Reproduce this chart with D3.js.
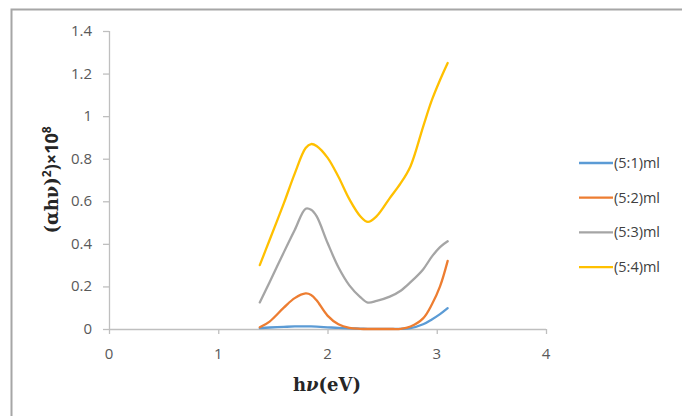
<!DOCTYPE html>
<html lang="en">
  <head>
    <meta charset="utf-8">
    <title>Tauc plot</title>
    <script src="https://d3js.org/d3.v7.min.js"></script>
    <style>
      body{ margin: 0; background: #fff; }
    </style>
  </head>
  <body>
    <div id="chart"></div>
    <script>

      var w = 682, h = 416;
      var margin = {top: 31, left: 109};
      var innerWidth = 437, innerHeight = 298;

      var seriesNames = ["(5:1)ml", "(5:2)ml", "(5:3)ml", "(5:4)ml"];
      var colors = ["#5b9bd5", "#ed7d31", "#a5a5a5", "#ffc000"];
      var xTicks = [0, 1, 2, 3, 4];
      var yTicks = [0, 0.2, 0.4, 0.6, 0.8, 1, 1.2, 1.4];

      // photon energy (eV)
      var hv = [1.38, 1.47, 1.6, 1.7, 1.8, 1.85, 1.9, 2.0, 2.1, 2.2, 2.3, 2.37, 2.45, 2.57, 2.67, 2.76, 2.875, 2.955, 3.03, 3.1];

      var s1 = [0.004, 0.007, 0.010, 0.012, 0.012, 0.012, 0.011, 0.008, 0.005, 0.003, 0.002, 0.001, 0.001, 0.001, 0.001, 0.004, 0.022, 0.045, 0.070, 0.098];
      var s2 = [0.008, 0.035, 0.100, 0.145, 0.167, 0.160, 0.135, 0.063, 0.022, 0.005, 0.001, 0.000, 0.000, 0.000, 0.001, 0.012, 0.050, 0.115, 0.200, 0.320];
      var s3 = [0.125, 0.220, 0.360, 0.465, 0.565, 0.560, 0.530, 0.405, 0.290, 0.205, 0.150, 0.124, 0.132, 0.152, 0.180, 0.220, 0.280, 0.340, 0.385, 0.412];
      var s4 = [0.300, 0.418, 0.590, 0.730, 0.850, 0.869, 0.860, 0.805, 0.715, 0.610, 0.530, 0.503, 0.530, 0.615, 0.685, 0.765, 0.950, 1.075, 1.170, 1.250];

      var series = [s1, s2, s3, s4];

      var svg = d3.select("#chart").append("svg")
                  .attr("width", w).attr("height", h);

      svg.append("rect").attr("x", 11.5).attr("y", 9.5)
         .attr("width", 700).attr("height", 420)
         .attr("fill", "#fff").attr("stroke", "#a6a6a6").attr("stroke-width", 2);

      var xScale = d3.scaleLinear().domain([0, 4]).range([margin.left, margin.left + innerWidth]);
      var yScale = d3.scaleLinear().domain([0, 1.4]).range([margin.top + innerHeight, margin.top]);

      // axis lines and ticks, labels are placed separately below
      var xAxis = d3.axisBottom(xScale).tickValues(xTicks).tickSize(5).tickFormat("");
      var yAxis = d3.axisLeft(yScale).tickValues(yTicks).tickSize(6).tickFormat("");

      svg.append("g").attr("class", "xAxis")
         .attr("transform", `translate(0,${margin.top + innerHeight})`).call(xAxis);
      svg.append("g").attr("class", "yAxis")
         .attr("transform", `translate(${margin.left},0)`).call(yAxis);

      svg.selectAll(".domain, .tick line").attr("stroke", "#bfbfbf").attr("stroke-width", 1.3);
      svg.select(".xAxis .domain").attr("d", `M${margin.left},0.5H${margin.left + innerWidth}`);
      svg.select(".yAxis .domain").attr("d", `M0.5,${margin.top}V${margin.top + innerHeight}`);

      var tickLabels = svg.append("g")
                          .attr("font-family", "'Open Sans', sans-serif")
                          .attr("font-size", 15).attr("fill", "#595959");

      tickLabels.selectAll(".xlab").data(xTicks).enter().append("text")
                .attr("class", "xlab")
                .attr("x", d => xScale(d))
                .attr("y", margin.top + innerHeight + 30)
                .attr("text-anchor", "middle")
                .text(d3.format("d"));

      tickLabels.selectAll(".ylab").data(yTicks).enter().append("text")
                .attr("class", "ylab")
                .attr("x", margin.left - 17)
                .attr("y", d => yScale(d) + 5)
                .attr("text-anchor", "end")
                .text(d => String(+d.toFixed(1)));

      var line = d3.line()
                   .x((d, i) => xScale(hv[i]))
                   .y(d => yScale(d))
                   .curve(d3.curveCatmullRom.alpha(0.5));

      svg.selectAll(".series").data(series).enter().append("path")
         .attr("class", "series")
         .attr("d", line)
         .attr("fill", "none")
         .attr("stroke", (d, i) => colors[i])
         .attr("stroke-width", 2.3)
         .attr("stroke-linecap", "round")
         .attr("stroke-linejoin", "round");

      // axis titles
      var xt = svg.append("text")
         .attr("x", 327).attr("y", 391)
         .attr("text-anchor", "middle")
         .attr("font-family", "'DejaVu Serif', serif")
         .attr("font-weight", "bold").attr("font-size", 18)
         .attr("fill", "#262626");
      xt.append("tspan").text("h");
      xt.append("tspan").attr("font-style", "italic").text("ν");
      xt.append("tspan").text("(eV)");

      var yt = svg.append("text")
         .attr("transform", "translate(58,180) rotate(-90)")
         .attr("text-anchor", "middle")
         .attr("font-weight", "bold").attr("font-size", 18)
         .attr("fill", "#262626");
      yt.append("tspan").attr("font-family", "'DejaVu Serif', serif").text("(αhν)");
      yt.append("tspan").attr("font-family", "'Open Sans', sans-serif").attr("font-size", 12).attr("dy", -7).text("2");
      yt.append("tspan").attr("font-family", "'Open Sans', sans-serif").attr("dy", 7).text(")×10");
      yt.append("tspan").attr("font-family", "'Open Sans', sans-serif").attr("font-size", 12).attr("dy", -7).text("8");

      // legend
      var legend = svg.append("g").attr("class", "legend")
                      .attr("font-family", "'Open Sans', sans-serif").attr("font-size", 14.5);
      var rows = legend.selectAll("g").data(seriesNames).enter().append("g")
                       .attr("transform", (d, i) => `translate(579,${163 + 34.7 * i})`);
      rows.append("line").attr("x1", 0).attr("x2", 34).attr("y1", 0).attr("y2", 0)
          .attr("stroke", (d, i) => colors[i]).attr("stroke-width", 2.3);
      rows.append("text").attr("x", 35).attr("y", 0).attr("dy", "0.35em")
          .attr("fill", "#404040").text(d => d);

    </script>
  </body>
</html>
